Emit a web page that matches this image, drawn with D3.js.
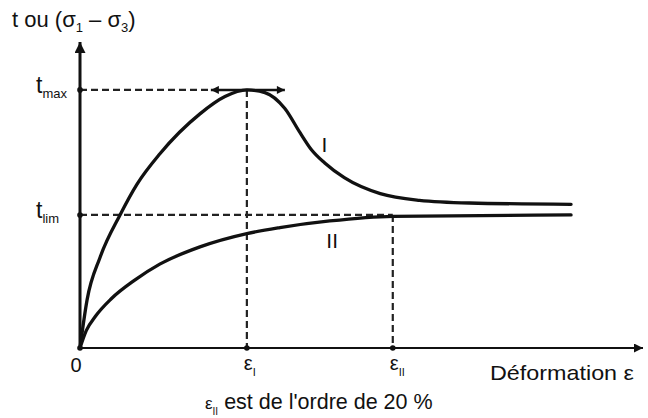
<!DOCTYPE html>
<html>
<head>
<meta charset="utf-8">
<script src="https://cdn.jsdelivr.net/npm/d3@7"></script>
<style>
  body { margin: 0; background: #fff; }
  text { font-family: "Liberation Sans", Arial, sans-serif; fill: #111; }
</style>
</head>
<body>
<div id="chart-area"></div>
<script>
// curve I : peak then softening down to the residual strength
const strainI = [0, 0.45, 1.28, 2.56, 3.64, 5.11, 7.67, 9.27, 10.67, 11.82, 13.1, 14.06, 14.8, 15.65, 16.9, 19.2, 21.7, 24.9, 31.4];
const stressI = [0, 0.36, 0.68, 1.0, 1.23, 1.46, 1.76, 1.89, 1.94, 1.92, 1.80, 1.62, 1.49, 1.39, 1.28, 1.16, 1.11, 1.09, 1.08];

// curve II : monotonic hardening up to t_lim
const strainII = [0, 0.4, 1.0, 2.0, 3.5, 5.1, 7.67, 10.67, 12.78, 15.97, 20, 31.4];
const stressII = [0, 0.13, 0.24, 0.37, 0.51, 0.63, 0.76, 0.86, 0.905, 0.955, 0.99, 1.0];

// reference values on the axes
const tMax = 1.94;
const tLim = 1.0;
const epsI = 10.67;
const epsII = 20;

const xTickNames = ['I', 'II'];
const yTickNames = ['max', 'lim'];

const W = 648, H = 418;

const svg = d3.select('#chart-area')
    .append('svg')
    .attr('width', W)
    .attr('height', H);

const x = d3.scaleLinear().domain([0, 36]).range([80, 643]);
const y = d3.scaleLinear().domain([0, 2.3]).range([348, 42]);

const defs = svg.append('defs');
function marker(id, w, h) {
    defs.append('marker')
        .attr('id', id)
        .attr('viewBox', '0 0 10 10')
        .attr('refX', 10).attr('refY', 5)
        .attr('markerUnits', 'userSpaceOnUse')
        .attr('markerWidth', w).attr('markerHeight', h)
        .attr('orient', 'auto-start-reverse')
        .append('path')
        .attr('d', 'M0,0 L10,5 L0,10 Z')
        .attr('fill', '#111');
}
marker('arrowY', 14, 11);
marker('arrowX', 15, 9);
marker('arrowS', 11, 8);

// dashed guides
const dash = '7,4';
const guides = [
    [[0, tMax], [epsI - 2.3, tMax]],
    [[epsI, tMax], [epsI, 0]],
    [[0, tLim], [epsII, tLim]],
    [[epsII, tLim], [epsII, 0]]
];
svg.selectAll('.guide')
    .data(guides)
    .enter()
    .append('line')
    .attr('class', 'guide')
    .attr('x1', (d) => x(d[0][0]))
    .attr('y1', (d) => y(d[0][1]))
    .attr('x2', (d) => x(d[1][0]))
    .attr('y2', (d) => y(d[1][1]))
    .attr('stroke', '#222')
    .attr('stroke-width', 2.2)
    .attr('stroke-dasharray', dash);

// double arrow at the peak
svg.append('line')
    .attr('x1', x(epsI) - 36)
    .attr('x2', x(epsI) + 38)
    .attr('y1', y(tMax))
    .attr('y2', y(tMax))
    .attr('stroke', '#111')
    .attr('stroke-width', 2.5)
    .attr('marker-start', 'url(#arrowS)')
    .attr('marker-end', 'url(#arrowS)');

// axes
svg.append('line')
    .attr('x1', x(0)).attr('y1', y(0))
    .attr('x2', x(0)).attr('y2', y.range()[1])
    .attr('stroke', '#111')
    .attr('stroke-width', 3)
    .attr('marker-end', 'url(#arrowY)');

svg.append('line')
    .attr('x1', x(0)).attr('y1', y(0))
    .attr('x2', x.range()[1]).attr('y2', y(0))
    .attr('stroke', '#111')
    .attr('stroke-width', 2)
    .attr('marker-end', 'url(#arrowX)');

// curves
const line = d3.line()
    .x((d) => x(d[0]))
    .y((d) => y(d[1]))
    .curve(d3.curveMonotoneX);

const curves = [
    d3.zip(strainI, stressI),
    d3.zip(strainII, stressII)
];
svg.selectAll('.curve')
    .data(curves)
    .enter()
    .append('path')
    .attr('class', 'curve')
    .attr('d', line)
    .attr('fill', 'none')
    .attr('stroke', '#111')
    .attr('stroke-width', 3.3)
    .attr('stroke-linecap', 'round');

// dots on the axes
const dots = [[0, tMax], [0, tLim], [epsI, 0], [epsII, 0], [0, 0]];
svg.selectAll('.dot')
    .data(dots)
    .enter()
    .append('circle')
    .attr('cx', (d) => x(d[0]))
    .attr('cy', (d) => y(d[1]))
    .attr('r', 2.8)
    .attr('fill', '#111');

// y tick labels t_max, t_lim
[tMax, tLim].forEach((v, i) => {
    const t = svg.append('text')
        .attr('x', x(0) - 44)
        .attr('y', y(v) + 3)
        .attr('font-size', 23);
    t.append('tspan').text('t');
    t.append('tspan').text(yTickNames[i]).attr('font-size', 13).attr('dy', 5);
});

// x tick labels
svg.append('text')
    .attr('x', x(0) - 4)
    .attr('y', y(0) + 24)
    .attr('text-anchor', 'middle')
    .attr('font-size', 20)
    .text('0');

[epsI, epsII].forEach((v, i) => {
    const t = svg.append('text')
        .attr('x', x(v) - 3)
        .attr('y', y(0) + 22)
        .attr('font-size', 20);
    t.append('tspan').text('ε');
    t.append('tspan').text(xTickNames[i]).attr('font-size', 11).attr('dy', 6);
});

// curve names
svg.append('text')
    .attr('x', x(15.45)).attr('y', y(1.47))
    .attr('font-size', 21)
    .text('I');
svg.append('text')
    .attr('x', x(15.75)).attr('y', y(0.75))
    .attr('font-size', 21)
    .text('II');

// y axis title
const yt = svg.append('text')
    .attr('x', 12).attr('y', 27)
    .attr('font-size', 22);
yt.append('tspan').text('t ou (σ');
yt.append('tspan').text('1').attr('font-size', 13).attr('dy', 5);
yt.append('tspan').text(' – σ').attr('dy', -5);
yt.append('tspan').text('3').attr('font-size', 13).attr('dy', 5);
yt.append('tspan').text(')').attr('dy', -5);

// x axis title
svg.append('text')
    .attr('x', 490).attr('y', 380)
    .attr('font-size', 21)
    .attr('textLength', 144)
    .attr('lengthAdjust', 'spacingAndGlyphs')
    .text('Déformation ε');

// note
const note = svg.append('text')
    .attr('x', 205).attr('y', 409)
    .attr('font-size', 21.5);
note.append('tspan').text('ε').attr('font-size', 17);
note.append('tspan').text('II').attr('font-size', 10).attr('dy', 6);
note.append('tspan').text(' est de l\'ordre de 20 %').attr('dy', -6);
</script>
</body>
</html>
